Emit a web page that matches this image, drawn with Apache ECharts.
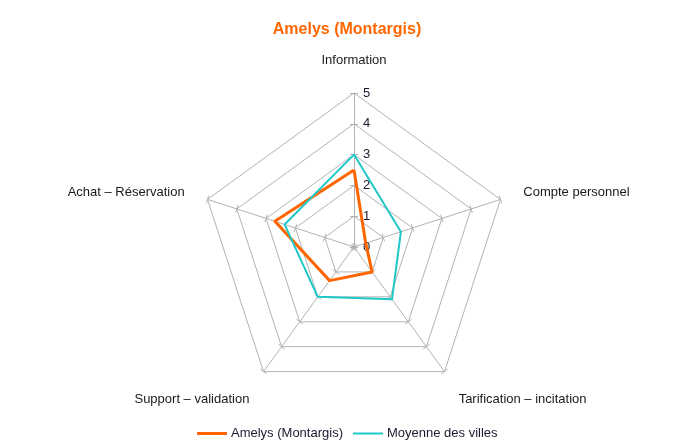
<!DOCTYPE html>
<html>
<head>
<meta charset="utf-8">
<script src="https://cdn.jsdelivr.net/npm/echarts@6/dist/echarts.min.js"></script>
<style>
html,body{margin:0;padding:0;background:#fff;}
#chart{width:694px;height:446px;}
</style>
</head>
<body>
<div id="chart"></div>
<script>
// Indicators (listed counter-clockwise starting at top, as ECharts lays them out)
var indicatorNames = ['Information', 'Achat – Réservation', 'Support – validation', 'Tarification – incitation', 'Compte personnel'];
var maxValue = 5;
var tickLabels = ['0', '1', '2', '3', '4', '5'];
var seriesNames = ['Amelys (Montargis)', 'Moyenne des villes'];
var amelysValues = [2.5, 2.7, 1.35, 1.0, 0.4];
var moyenneValues = [3.0, 2.37, 2.0, 2.1, 1.6];

var font = 'Liberation Sans, Arial, sans-serif';
var gridColor = '#b3b3b3';
var lowerNames = ['Support – validation', 'Tarification – incitation'];

function indicators(main) {
  return indicatorNames.map(function (n, i) {
    var o = { name: n, max: maxValue, min: 0, axisLabel: { show: main && i === 0 } };
    if (main && i === 0) o.nameTextStyle = { padding: [0, 0, 1, 0] };
    return o;
  });
}

var chart = echarts.init(document.getElementById('chart'));
chart.setOption({
  backgroundColor: '#fff',
  animation: false,
  textStyle: { fontFamily: font },
  title: {
    text: 'Amelys (Montargis)',
    left: 'center',
    top: 17,
    textStyle: { color: '#ff6600', fontSize: 16, fontWeight: 'bold', fontFamily: font }
  },
  legend: [{
    data: [seriesNames[0]],
    left: 197,
    top: 427,
    padding: 0,
    itemWidth: 30,
    itemHeight: 3,
    itemGap: 4,
    icon: 'rect',
    textStyle: { color: '#1a1a2e', fontSize: 13, fontFamily: font, padding: [0, 0, 0, -1] }
  }, {
    data: [seriesNames[1]],
    left: 353,
    top: 427,
    padding: 0,
    itemWidth: 30,
    itemHeight: 2,
    icon: 'rect',
    textStyle: { color: '#1a1a2e', fontSize: 13, fontFamily: font, padding: [0, 0, 0, -1] }
  }],
  radar: [{
    center: [354, 247],
    radius: 154,
    startAngle: 90,
    splitNumber: 5,
    shape: 'polygon',
    nameGap: 24,
    axisName: {
      color: '#1a1a1a', fontSize: 13, fontFamily: font, lineHeight: 16,
      formatter: function (name) {
        return lowerNames.indexOf(name) >= 0 ? '\n' + name : name;
      }
    },
    axisLine: { show: true, lineStyle: { color: gridColor, width: 1 } },
    splitLine: { show: true, lineStyle: { color: gridColor, width: 1 } },
    splitArea: { show: false },
    axisTick: { show: true, length: 4, lineStyle: { color: gridColor, width: 1 } },
    axisLabel: {
      show: true,
      color: '#1a1a2e',
      fontSize: 13,
      fontFamily: font,
      margin: -9,
      align: 'left',
      formatter: function (v) { return tickLabels[Math.round(v)]; }
    },
    indicator: indicators(true)
  }, {
    center: [354, 247],
    radius: 154,
    startAngle: 90,
    splitNumber: 5,
    shape: 'polygon',
    axisName: { show: false },
    axisLine: { show: false },
    splitLine: { show: false },
    splitArea: { show: false },
    axisTick: { show: true, length: -4, lineStyle: { color: gridColor, width: 1 } },
    axisLabel: { show: false },
    indicator: indicators(false)
  }],
  series: [{
    type: 'radar',
    radarIndex: 0,
    symbol: 'none',
    data: [{
      name: seriesNames[0],
      value: amelysValues,
      lineStyle: { color: '#ff6600', width: 3 },
      itemStyle: { color: '#ff6600' }
    }, {
      name: seriesNames[1],
      value: moyenneValues,
      lineStyle: { color: '#1fc8c8', width: 2 },
      itemStyle: { color: '#1fc8c8' }
    }],
    z: 3
  }]
});
</script>
</body>
</html>
